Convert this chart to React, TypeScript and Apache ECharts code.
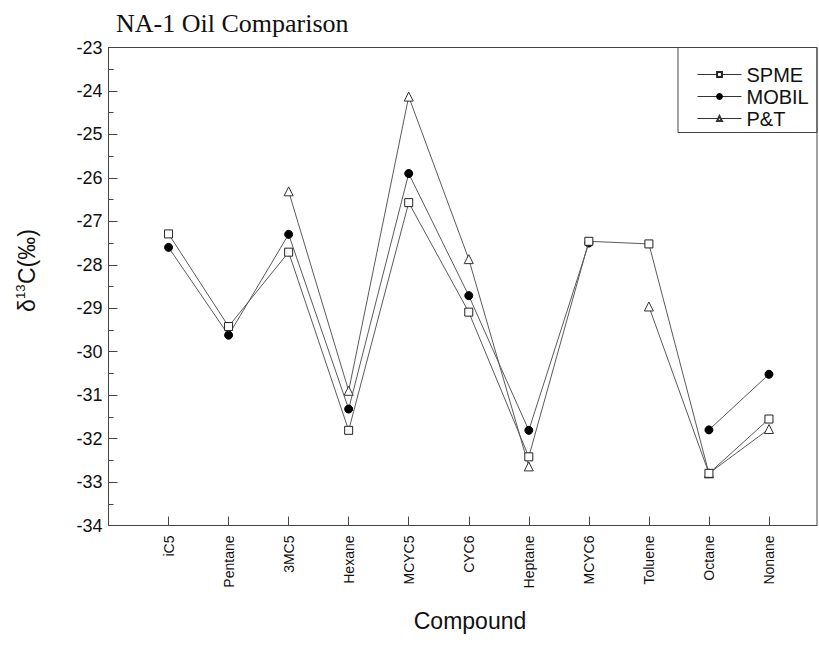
import React, { useEffect, useRef } from "react";
import * as echarts from "echarts";

// Compounds along the x axis, in elution order
const categories = [
  "iC5", "Pentane", "3MC5", "Hexane", "MCYC5", "CYC6",
  "Heptane", "MCYC6", "Toluene", "Octane", "Nonane",
];

// δ13C values (‰) per extraction method; null = not measured
const spme: (number | null)[] = [
  -27.29, -29.42, -27.71, -31.81, -26.57, -29.09, -32.42, -27.46, -27.52, -32.8, -31.55,
];
const mobil: (number | null)[] = [
  -27.6, -29.62, -27.3, -31.32, -25.9, -28.71, -31.81, -27.5, null, -31.8, -30.52,
];
const pt: (number | null)[] = [
  null, null, -26.31, -30.9, -24.13, -27.87, -32.64, null, -28.96, -32.8, -31.78,
];

const yTicks = { min: -34, max: -23, step: 1 };

const SANS = "'Liberation Sans', Arial, Helvetica, sans-serif";
const SERIF = "'Liberation Serif', 'Times New Roman', serif";

const toPoints = (vals: (number | null)[]) =>
  vals.map((v, i) => [i + 1, v === null ? "-" : v]);

export default function App() {
  const ref = useRef<HTMLDivElement>(null);

  useEffect(() => {
    if (!ref.current) return;
    const chart = echarts.init(ref.current, null, { renderer: "svg" });
    const positions = categories.map((_, i) => i + 1);

    const lineStyle = { color: "#5a5a5a", width: 1 };

    chart.setOption({
      animation: false,
      backgroundColor: "#ffffff",
      title: {
        text: "NA-1 Oil Comparison",
        left: 116,
        top: 10,
        padding: 0,
        textStyle: {
          fontFamily: SERIF,
          fontSize: 26,
          fontWeight: "normal",
          color: "#111",
        },
      },
      grid: {
        left: 108.5,
        top: 47.5,
        width: 708.5,
        height: 478,
        show: true,
        borderColor: "#444",
        borderWidth: 1,
        backgroundColor: "transparent",
      },
      legend: {
        orient: "vertical",
        left: 697,
        top: 64,
        itemWidth: 44,
        itemHeight: 6,
        itemGap: 1,
        padding: 0,
        lineStyle: { width: 1, color: "#333" },
        textStyle: {
          fontFamily: SANS,
          fontSize: 20,
          color: "#111",
          lineHeight: 21,
        },
        data: ["SPME", "MOBIL", "P&T"],
      },
      xAxis: {
        type: "value",
        min: 0,
        max: 11.8,
        interval: 1,
        splitLine: { show: false },
        axisLine: { lineStyle: { color: "#444", width: 1 } },
        axisTick: {
          inside: true,
          length: 9,
          customValues: positions,
          lineStyle: { color: "#444" },
        },
        axisLabel: {
          customValues: positions,
          rotate: 90,
          margin: 10,
          fontFamily: SANS,
          fontSize: 14,
          color: "#111",
          formatter: (v: number) => categories[Math.round(v) - 1] ?? "",
        },
      },
      yAxis: {
        type: "value",
        min: yTicks.min,
        max: yTicks.max,
        interval: yTicks.step,
        splitLine: { show: false },
        axisLine: { show: true, lineStyle: { color: "#444", width: 1 } },
        axisTick: { inside: true, length: 9, lineStyle: { color: "#444" } },
        minorTick: {
          show: true,
          splitNumber: 2,
          length: 5,
          lineStyle: { color: "#444" },
        },
        axisLabel: {
          margin: 6,
          fontFamily: SANS,
          fontSize: 18,
          color: "#111",
        },
      },
      series: [
        {
          name: "SPME",
          type: "line",
          data: toPoints(spme),
          symbol: "rect",
          symbolSize: 8,
          lineStyle,
          itemStyle: { color: "#ffffff", borderColor: "#222", borderWidth: 1 },
          z: 3,
        },
        {
          name: "MOBIL",
          type: "line",
          data: toPoints(mobil),
          symbol: "circle",
          symbolSize: 8,
          lineStyle,
          itemStyle: { color: "#000000", borderColor: "#000", borderWidth: 1 },
          z: 2,
        },
        {
          name: "P&T",
          type: "line",
          data: toPoints(pt),
          symbol: "triangle",
          symbolSize: 9,
          lineStyle,
          itemStyle: { color: "#ffffff", borderColor: "#333", borderWidth: 1 },
          z: 2,
        },
      ],
      graphic: [
        // legend frame, anchored to the top-right corner of the plot
        {
          type: "rect",
          shape: { x: 678, y: 47.5, width: 139, height: 85 },
          style: { fill: "none", stroke: "#444", lineWidth: 1 },
          z: 10,
        },
        // x axis title
        {
          type: "text",
          x: 470,
          y: 621,
          style: {
            text: "Compound",
            fontFamily: SANS,
            fontSize: 23,
            fill: "#111",
            align: "center",
            verticalAlign: "middle",
          },
        },
        // y axis title: δ13C(‰), rotated to read bottom-to-top
        {
          type: "group",
          x: 27,
          y: 268,
          rotation: Math.PI / 2,
          children: [
            {
              type: "text",
              x: -44,
              y: 0,
              style: {
                text: "δ",
                fontFamily: SANS,
                fontSize: 23,
                fill: "#111",
                align: "left",
                verticalAlign: "middle",
              },
            },
            {
              type: "text",
              x: -31,
              y: -7,
              style: {
                text: "13",
                fontFamily: SANS,
                fontSize: 13,
                fill: "#111",
                align: "left",
                verticalAlign: "middle",
              },
            },
            {
              type: "text",
              x: -16,
              y: 0,
              style: {
                text: "C(‰)",
                fontFamily: SANS,
                fontSize: 23,
                fill: "#111",
                align: "left",
                verticalAlign: "middle",
              },
            },
          ],
        },
      ],
    });

    return () => chart.dispose();
  }, []);

  return (
    <div
      ref={ref}
      style={{ position: "absolute", left: 0, top: 0, width: 819, height: 653 }}
    />
  );
}
